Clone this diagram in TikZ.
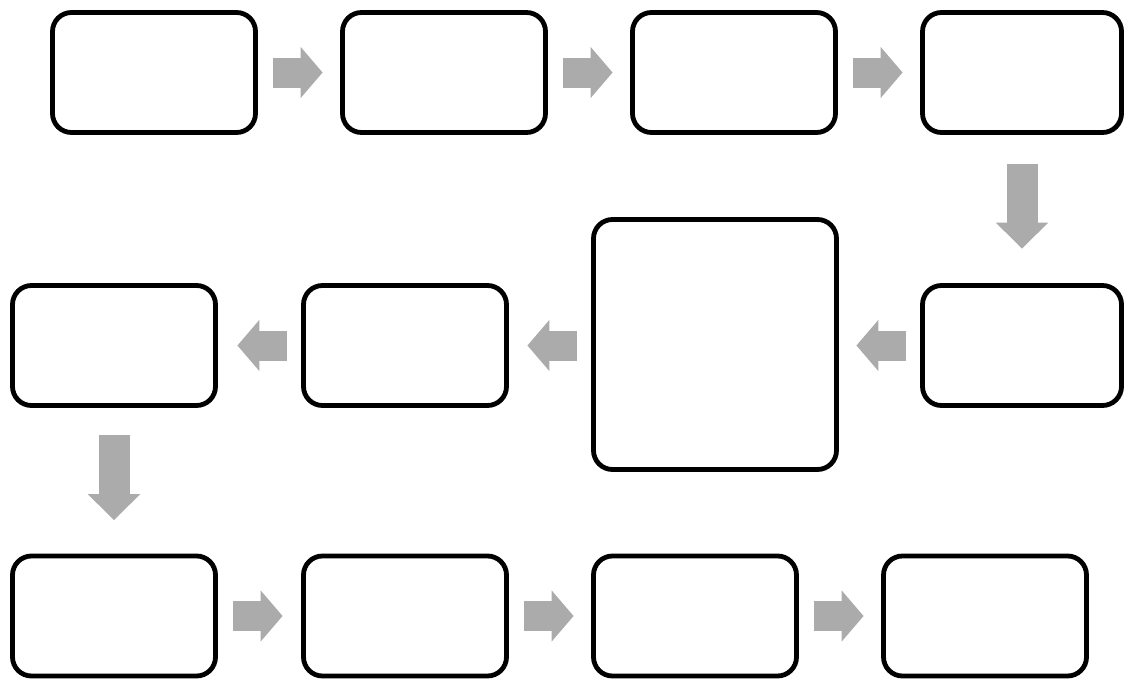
\documentclass[tikz,border=0pt]{standalone}
\usetikzlibrary{arrows.meta}
\definecolor{arrgray}{HTML}{ABABAB}
\tikzset{
  box/.style={draw, line width=4.8pt, rounded corners=19pt, minimum width=203pt, minimum height=120pt, inner sep=0pt},
  tall/.style={box, minimum width=243pt, minimum height=250pt},
  flow/.style={draw=arrgray, line width=30pt, -{Triangle[width=50pt,length=22pt]}, shorten <=15.5pt, shorten >=17.5pt},
  drop/.style={draw=arrgray, line width=31pt, -{Triangle[width=51pt,length=26pt]}}
}
\begin{document}
\begin{tikzpicture}[x=1pt,y=-1pt]
  \useasboundingbox (0,0) rectangle (1124,680);
  \node[box] (a1) at (154,72.5) {};
  \node[box] (a2) at (444,72.5) {};
  \node[box] (a3) at (734,72.5) {};
  \node[box, minimum width=199pt] (a4) at (1022,72.5) {};
  \node[box, minimum width=199pt] (b1) at (1022,345.5) {};
  \node[tall] (b2) at (715,344.5) {};
  \node[box] (b3) at (405,345.5) {};
  \node[box] (b4) at (114,345.5) {};
  \node[box] (c1) at (114,616) {};
  \node[box] (c2) at (405,616) {};
  \node[box] (c3) at (695,616) {};
  \node[box] (c4) at (985,616) {};
  \draw[flow] (a1) -- (a2);
  \draw[flow] (a2) -- (a3);
  \draw[flow] (a3) -- (a4);
  \draw[drop, shorten <=29.5pt, shorten >=34.5pt] (a4.south) -- (b1.north);
  \draw[flow, shorten <=14.5pt] (b1.west) -- (b2.east |- b1.west);
  \draw[flow, shorten <=14.5pt, shorten >=18.5pt] (b2.west |- b3.east) -- (b3.east);
  \draw[flow, shorten <=14.5pt, shorten >=19.5pt] (b3) -- (b4);
  \draw[drop, shorten <=27.5pt, shorten >=33.5pt] (b4.south) -- (c1.north);
  \draw[flow, shorten >=18.5pt] (c1) -- (c2);
  \draw[flow] (c2) -- (c3);
  \draw[flow] (c3) -- (c4);
\end{tikzpicture}
\end{document}
